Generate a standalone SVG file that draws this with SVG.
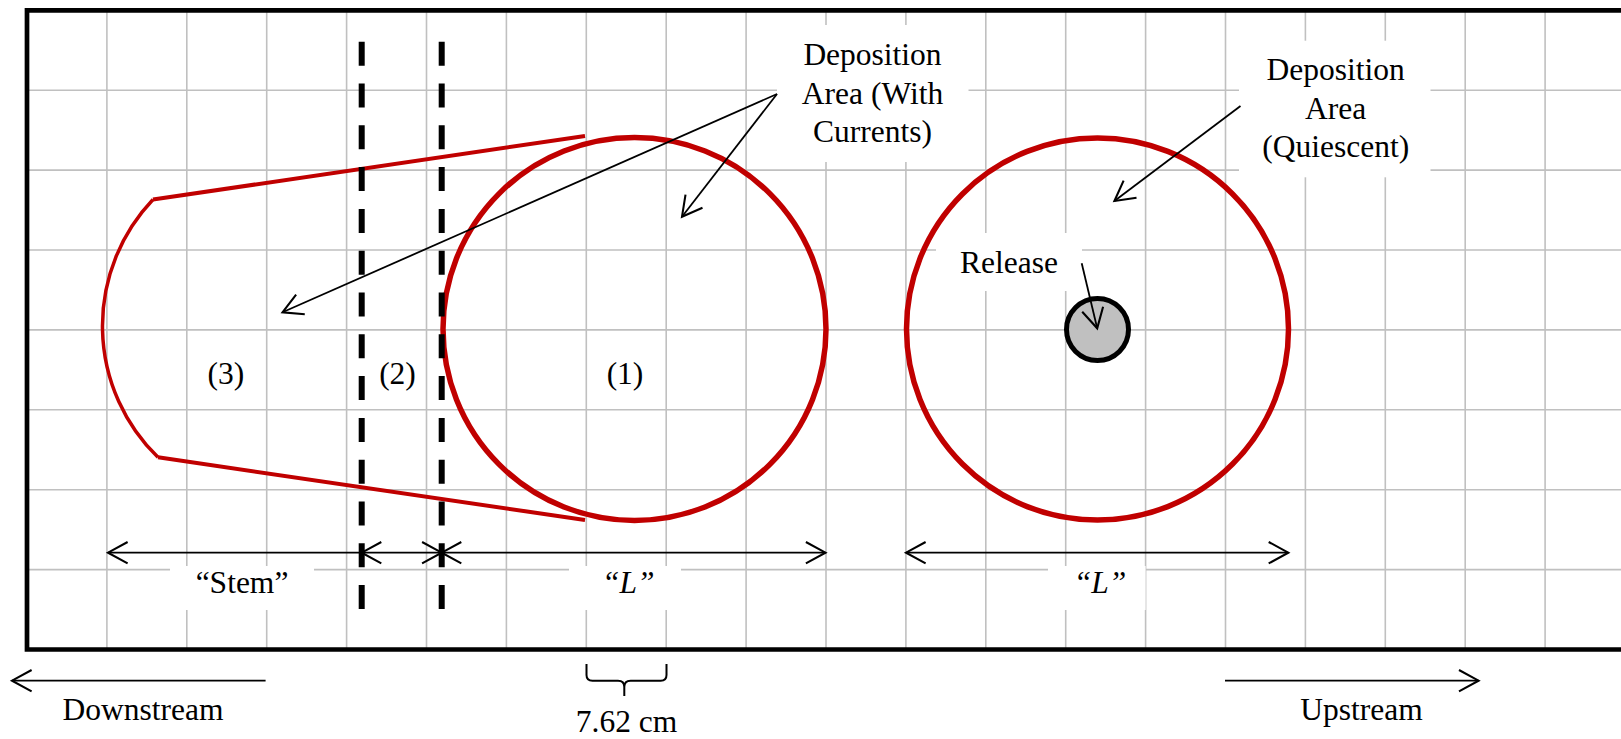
<svg xmlns="http://www.w3.org/2000/svg" width="1621" height="739" viewBox="0 0 1621 739">
<style>
.grid{stroke:#c0c0c0;stroke-width:1.6;fill:none}
.box{fill:#fff;stroke:none}
.red{fill:none;stroke:#c00000}
.dash{stroke:#000;stroke-width:6;stroke-dasharray:24 17.8;fill:none}
.arr{stroke:#000;stroke-width:1.8;fill:none}
.t{font-family:"Liberation Serif","Times New Roman",serif;font-size:31.5px;fill:#000;text-anchor:middle}
.it{font-style:italic}
</style>
<defs>
<marker id="ah" markerUnits="userSpaceOnUse" markerWidth="30" markerHeight="30" viewBox="-22 -13 26 26" refX="0" refY="0" orient="auto-start-reverse">
<path d="M-17,-9.3 L0,0 L-17,9.3" fill="none" stroke="#000" stroke-width="1.8"/>
</marker>
</defs>
<rect width="1621" height="739" fill="#fff"/>
<g id="grid">
<path class="grid" d="M106.9,10.3V649.5M186.8,10.3V649.5M266.7,10.3V649.5M346.6,10.3V649.5M426.5,10.3V649.5M506.4,10.3V649.5M586.3,10.3V649.5M666.2,10.3V649.5M746.1,10.3V649.5M826,10.3V649.5M905.9,10.3V649.5M985.8,10.3V649.5M1065.7,10.3V649.5M1145.6,10.3V649.5M1225.5,10.3V649.5M1305.4,10.3V649.5M1385.3,10.3V649.5M1465.2,10.3V649.5M1545.1,10.3V649.5M27,90.2H1621M27,170.1H1621M27,250H1621M27,329.9H1621M27,409.8H1621M27,489.7H1621M27,569.6H1621"/>
</g>
<g id="label-boxes">
<rect class="box" x="777" y="25" width="191.5" height="137"/>
<rect class="box" x="1239" y="40.7" width="191.5" height="136.6"/>
<rect class="box" x="936" y="233" width="146" height="58"/>
<rect class="box" x="170" y="566" width="144" height="44"/>
<rect class="box" x="569" y="566" width="112" height="44"/>
<rect class="box" x="1048" y="566" width="97.6" height="44"/>
</g>
<g id="stem-zone">
<path class="red" stroke-width="4" d="M153,199.5L585,136"/>
<path class="red" stroke-width="4" d="M158,457.3L585,520"/>
<path class="red" stroke-width="3.5" d="M153,199.5A183.3,183.3 0 0 0 158,457.3"/>
</g>
<g id="deposition-currents-circle">
<circle class="red" stroke-width="5.5" cx="634.5" cy="329" r="191.5"/>
</g>
<g id="deposition-quiescent-circle">
<circle class="red" stroke-width="5.5" cx="1097.5" cy="329" r="191"/>
</g>
<g id="release">
<circle cx="1097.5" cy="329.5" r="31" fill="#c0c0c0" stroke="#000" stroke-width="5"/>
</g>
<g id="zone-boundaries">
<path class="dash" d="M361.7,41.7V610"/>
<path class="dash" d="M441.7,41.7V610"/>
</g>
<g id="frame">
<path d="M1625,10.3H27V649.5H1625" fill="none" stroke="#000" stroke-width="4.7"/>
</g>
<g id="connectors">
<path class="arr" marker-end="url(#ah)" d="M777,94L282.5,312.3"/>
<path class="arr" marker-end="url(#ah)" d="M777,94L682,216.7"/>
<path class="arr" marker-end="url(#ah)" d="M1240.5,106L1114.4,201"/>
<path class="arr" marker-end="url(#ah)" d="M1081.7,263.3L1097.2,328.3"/>
<path class="arr" marker-start="url(#ah)" d="M108,552.7H361.7"/>
<path class="arr" marker-start="url(#ah)" marker-end="url(#ah)" d="M361.7,552.7H441.7"/>
<path class="arr" marker-start="url(#ah)" marker-end="url(#ah)" d="M441.7,552.7H825.5"/>
<path class="arr" marker-start="url(#ah)" marker-end="url(#ah)" d="M906,552.7H1288.3"/>
<path class="arr" marker-end="url(#ah)" d="M265.6,680.7H12"/>
<path class="arr" marker-end="url(#ah)" d="M1225,680.7H1478.6"/>
<path d="M586.5,664V675Q586.5,680.7 592.5,680.7H618Q624.3,680.7 624.3,687V696M624.3,687Q624.3,680.7 630.6,680.7H660.7Q666.5,680.7 666.5,675V664" fill="none" stroke="#000" stroke-width="2"/>
</g>
<g id="label-currents">
<text class="t" x="872.5" y="65">Deposition</text>
<text class="t" x="872.5" y="104">Area (With</text>
<text class="t" x="872.5" y="142">Currents)</text>
</g>
<g id="label-quiescent">
<text class="t" x="1335.7" y="80">Deposition</text>
<text class="t" x="1335.7" y="118.5">Area</text>
<text class="t" x="1335.7" y="157">(Quiescent)</text>
</g>
<g id="label-release"><text class="t" x="1009" y="272.7">Release</text></g>
<g id="label-zones">
<text class="t" x="225.8" y="384.3">(3)</text>
<text class="t" x="397.5" y="384.3">(2)</text>
<text class="t" x="625" y="384.3">(1)</text>
</g>
<g id="label-dimensions">
<text class="t" x="242" y="593">“Stem”</text>
<text class="t it" x="628.3" y="592.7">“L”</text>
<text class="t it" x="1100" y="592.7">“L”</text>
<text class="t" x="626.5" y="732">7.62 cm</text>
</g>
<g id="label-flow">
<text class="t" x="143" y="720">Downstream</text>
<text class="t" x="1361.5" y="720">Upstream</text>
</g>
</svg>
